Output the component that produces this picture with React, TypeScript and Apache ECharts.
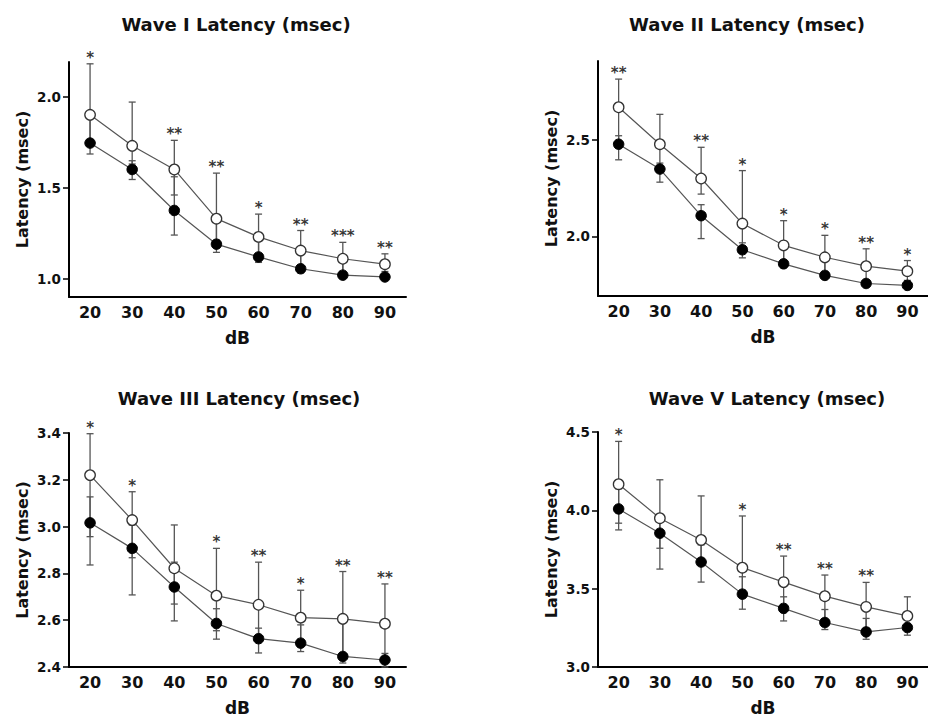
import React, { useEffect, useRef } from "react";
import * as echarts from "echarts";

// ---------- data ----------
const dB = ["20", "30", "40", "50", "60", "70", "80", "90"];

const titles = [
  "Wave I Latency (msec)",
  "Wave II Latency (msec)",
  "Wave III Latency (msec)",
  "Wave V Latency (msec)",
];

// Wave I
const waveIOpen = [1.9, 1.73, 1.6, 1.33, 1.23, 1.155, 1.11, 1.08];
const waveIOpenHi = [2.18, 1.97, 1.76, 1.58, 1.355, 1.265, 1.2, 1.137];
const waveIOpenLo = [1.745, 1.63, 1.46, 1.19, 1.12, 1.055, 1.02, 1.01];
const waveIFilled = [1.745, 1.6, 1.375, 1.19, 1.12, 1.055, 1.02, 1.01];
const waveIFilledHi = [1.9, 1.648, 1.56, 1.33, 1.23, 1.155, 1.11, 1.04];
const waveIFilledLo = [1.685, 1.545, 1.24, 1.145, 1.09, 1.033, 1.005, 1.0];
const waveIStars = ["*", "", "**", "**", "*", "**", "***", "**"];
const waveITicks = [1.0, 1.5, 2.0];

// Wave II
const waveIIOpen = [2.67, 2.478, 2.3, 2.066, 1.953, 1.891, 1.845, 1.819];
const waveIIOpenHi = [2.816, 2.633, 2.462, 2.341, 2.081, 2.005, 1.935, 1.874];
const waveIIOpenLo = [2.478, 2.349, 2.219, 1.93, 1.857, 1.797, 1.755, 1.745];
const waveIIFilled = [2.478, 2.349, 2.107, 1.93, 1.857, 1.797, 1.755, 1.745];
const waveIIFilledHi = [2.522, 2.38, 2.164, 1.966, 1.953, 1.891, 1.765, 1.771];
const waveIIFilledLo = [2.397, 2.281, 1.988, 1.888, 1.845, 1.79, 1.745, 1.74];
const waveIIStars = ["**", "", "**", "*", "*", "*", "**", "*"];
const waveIITicks = [2.0, 2.5];

// Wave III
const waveIIIOpen = [3.22, 3.028, 2.822, 2.705, 2.666, 2.611, 2.606, 2.585];
const waveIIIOpenHi = [3.397, 3.149, 3.007, 2.907, 2.848, 2.728, 2.808, 2.755];
const waveIIIOpenLo = [2.957, 2.867, 2.669, 2.555, 2.521, 2.502, 2.445, 2.43];
const waveIIIFilled = [3.016, 2.907, 2.742, 2.586, 2.521, 2.502, 2.445, 2.43];
const waveIIIFilledHi = [3.127, 3.007, 2.848, 2.649, 2.566, 2.58, 2.606, 2.458];
const waveIIIFilledLo = [2.836, 2.708, 2.597, 2.519, 2.46, 2.466, 2.417, 2.4];
const waveIIIStars = ["*", "*", "", "*", "**", "*", "**", "**"];
const waveIIITicks = [2.4, 2.6, 2.8, 3.0, 3.2, 3.4];

// Wave V
const waveVOpen = [4.167, 3.95, 3.811, 3.634, 3.542, 3.452, 3.384, 3.326];
const waveVOpenHi = [4.44, 4.195, 4.092, 3.964, 3.708, 3.587, 3.54, 3.448];
const waveVOpenLo = [3.918, 3.625, 3.67, 3.465, 3.374, 3.284, 3.224, 3.252];
const waveVFilled = [4.009, 3.854, 3.67, 3.465, 3.374, 3.284, 3.224, 3.252];
const waveVFilledHi = [4.137, 3.95, 3.779, 3.576, 3.448, 3.367, 3.31, 3.352];
const waveVFilledLo = [3.875, 3.758, 3.542, 3.369, 3.294, 3.239, 3.177, 3.203];
const waveVStars = ["*", "", "", "*", "**", "**", "**", ""];
const waveVTicks = [3.0, 3.5, 4.0, 4.5];

// ---------- layout ----------
const FONT = '"DejaVu Sans", Verdana, sans-serif';

const panels = [
  {
    title: titles[0], cx: 236, ty: 15,
    grid: { left: 69, top: 62, width: 337, height: 235 },
    min: 0.9, max: 2.19, ticks: waveITicks,
    open: waveIOpen, openHi: waveIOpenHi, openLo: waveIOpenLo,
    filled: waveIFilled, filledHi: waveIFilledHi, filledLo: waveIFilledLo,
    stars: waveIStars,
  },
  {
    title: titles[1], cx: 747, ty: 15,
    grid: { left: 598, top: 61, width: 337, height: 235 },
    min: 1.69, max: 2.91, ticks: waveIITicks,
    open: waveIIOpen, openHi: waveIIOpenHi, openLo: waveIIOpenLo,
    filled: waveIIFilled, filledHi: waveIIFilledHi, filledLo: waveIIFilledLo,
    stars: waveIIStars,
  },
  {
    title: titles[2], cx: 239, ty: 389,
    grid: { left: 69, top: 433, width: 337, height: 234 },
    min: 2.4, max: 3.4, ticks: waveIIITicks,
    open: waveIIIOpen, openHi: waveIIIOpenHi, openLo: waveIIIOpenLo,
    filled: waveIIIFilled, filledHi: waveIIIFilledHi, filledLo: waveIIIFilledLo,
    stars: waveIIIStars,
  },
  {
    title: titles[3], cx: 767, ty: 389,
    grid: { left: 598, top: 432, width: 337, height: 235 },
    min: 3.0, max: 4.5, ticks: waveVTicks,
    open: waveVOpen, openHi: waveVOpenHi, openLo: waveVOpenLo,
    filled: waveVFilled, filledHi: waveVFilledHi, filledLo: waveVFilledLo,
    stars: waveVStars,
  },
];

const ERR_COLOR = "#555";
const LINE_COLOR = "#555";

function errorBarSeries(idx: number, hi: number[], lo: number[]) {
  return {
    type: "custom",
    xAxisIndex: idx,
    yAxisIndex: idx,
    z: 1,
    silent: true,
    data: dB.map((_, i) => [i, hi[i], lo[i]]),
    encode: { x: 0, y: [1, 2] },
    renderItem: (params: any, api: any) => {
      const x = api.value(0);
      const top = api.coord([x, api.value(1)]);
      const bot = api.coord([x, api.value(2)]);
      const cw = 3.5;
      const style = { stroke: ERR_COLOR, lineWidth: 1.3 };
      return {
        type: "group",
        children: [
          { type: "line", shape: { x1: top[0], y1: top[1], x2: bot[0], y2: bot[1] }, style },
          { type: "line", shape: { x1: top[0] - cw, y1: top[1], x2: top[0] + cw, y2: top[1] }, style },
          { type: "line", shape: { x1: bot[0] - cw, y1: bot[1], x2: bot[0] + cw, y2: bot[1] }, style },
        ],
      };
    },
  };
}

function buildOption() {
  const grid: any[] = [];
  const xAxis: any[] = [];
  const yAxis: any[] = [];
  const series: any[] = [];
  const title: any[] = [];

  panels.forEach((p, idx) => {
    grid.push({ ...p.grid, containLabel: false });
    title.push({
      text: p.title,
      left: p.cx,
      top: p.ty,
      textAlign: "center",
      padding: 0,
      textStyle: { fontFamily: FONT, fontWeight: "bold", fontSize: 18, color: "#111" },
    });
    xAxis.push({
      type: "category",
      gridIndex: idx,
      data: dB,
      boundaryGap: true,
      name: "dB",
      nameLocation: "middle",
      nameGap: 32,
      nameTextStyle: { fontFamily: FONT, fontWeight: "bold", fontSize: 17, color: "#111" },
      axisLine: { onZero: false, lineStyle: { color: "#000", width: 2 } },
      axisTick: { alignWithLabel: true, length: 6, lineStyle: { color: "#000", width: 1.5 } },
      axisLabel: { margin: 7, fontFamily: FONT, fontWeight: "bold", fontSize: 16, color: "#111" },
      splitLine: { show: false },
    });
    yAxis.push({
      type: "value",
      gridIndex: idx,
      min: p.min,
      max: p.max,
      name: "Latency (msec)",
      nameLocation: "middle",
      nameGap: 39,
      nameTextStyle: { fontFamily: FONT, fontWeight: "bold", fontSize: 16, color: "#111" },
      axisLine: { show: true, lineStyle: { color: "#000", width: 2 } },
      axisTick: { show: true, length: 6, customValues: p.ticks, lineStyle: { color: "#000", width: 1.5 } },
      axisLabel: {
        margin: 8,
        customValues: p.ticks,
        formatter: (v: number) => v.toFixed(1),
        fontFamily: FONT,
        fontWeight: "bold",
        fontSize: 13.5,
        color: "#111",
      },
      splitLine: { show: false },
    });

    series.push(errorBarSeries(idx, p.openHi, p.openLo));
    series.push(errorBarSeries(idx, p.filledHi, p.filledLo));
    series.push({
      type: "line",
      xAxisIndex: idx,
      yAxisIndex: idx,
      z: 3,
      data: p.filled,
      symbol: "circle",
      symbolSize: 10.5,
      lineStyle: { color: LINE_COLOR, width: 1.2 },
      itemStyle: { color: "#000", borderColor: "#000", borderWidth: 1 },
    });
    series.push({
      type: "line",
      xAxisIndex: idx,
      yAxisIndex: idx,
      z: 4,
      data: p.open,
      symbol: "circle",
      symbolSize: 10.5,
      lineStyle: { color: LINE_COLOR, width: 1.2 },
      itemStyle: { color: "#fff", borderColor: "#333", borderWidth: 1.3 },
    });
    series.push({
      type: "scatter",
      xAxisIndex: idx,
      yAxisIndex: idx,
      z: 5,
      symbolSize: 1,
      itemStyle: { color: "rgba(0,0,0,0)" },
      data: dB.map((_, i) => [i, Math.max(p.openHi[i], p.filledHi[i])]),
      label: {
        show: true,
        position: "top",
        distance: -2,
        formatter: (q: any) => p.stars[q.dataIndex],
        fontFamily: FONT,
        fontWeight: "bold",
        fontSize: 15,
        color: "#000",
      },
    });
  });

  return { animation: false, backgroundColor: "#fff", title, grid, xAxis, yAxis, series };
}

export default function App() {
  const ref = useRef<HTMLDivElement>(null);
  useEffect(() => {
    if (!ref.current) return;
    const chart = echarts.init(ref.current, undefined, { renderer: "svg" });
    chart.setOption(buildOption() as any);
    return () => chart.dispose();
  }, []);
  return (
    <div
      ref={ref}
      style={{ position: "absolute", left: 0, top: 0, width: 928, height: 720, background: "#fff" }}
    />
  );
}
